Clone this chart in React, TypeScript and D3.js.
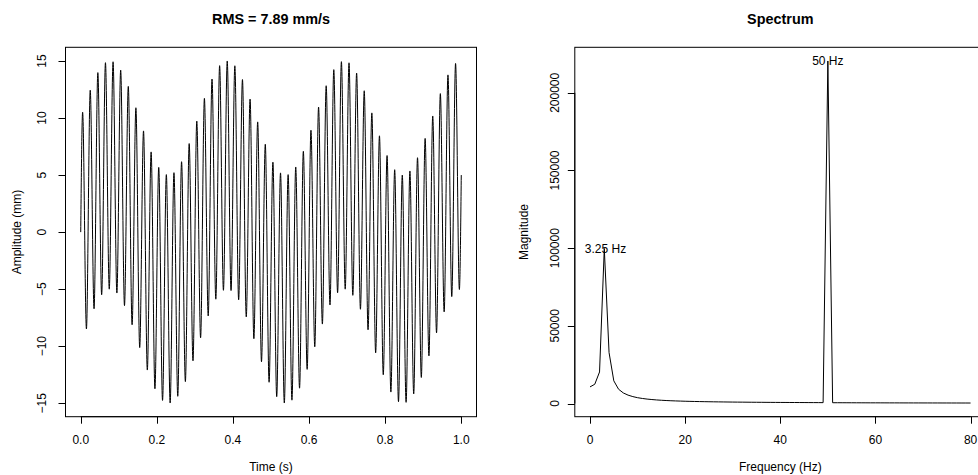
import React from "react";
import * as d3 from "d3";

// ---- Time signal (extrema) ----
const peakTimes = [0.005,0.025,0.045,0.065,0.085,0.105,0.125,0.145,0.165,0.185,0.205,0.225,0.245,0.265,0.285,0.305,0.325,0.345,0.365,0.385,0.405,0.425,0.445,0.465,0.485,0.505,0.525,0.545,0.565,0.585,0.605,0.625,0.645,0.665,0.685,0.705,0.725,0.745,0.765,0.785,0.805,0.825,0.845,0.865,0.885,0.905,0.925,0.945,0.965,0.985];
const peakValues = [10.51,12.44,13.98,14.85,14.93,14.2,12.77,10.9,8.87,7.03,5.67,5.04,5.21,6.17,7.76,9.73,11.72,13.42,14.59,15.0,14.58,13.37,11.66,9.66,7.7,6.13,5.19,5.04,5.71,7.08,8.93,10.96,12.83,14.24,14.94,14.84,13.94,12.39,10.45,8.44,6.71,5.47,5.0,5.36,6.52,8.21,10.18,12.14,13.78,14.78];
const troughTimes = [0.015,0.035,0.055,0.075,0.095,0.115,0.135,0.155,0.175,0.195,0.215,0.235,0.255,0.275,0.295,0.315,0.335,0.355,0.375,0.395,0.415,0.435,0.455,0.475,0.495,0.515,0.535,0.555,0.575,0.595,0.615,0.635,0.655,0.675,0.695,0.715,0.735,0.755,0.775,0.795,0.815,0.835,0.855,0.875,0.895,0.915,0.935,0.955,0.975,0.995];
const troughValues = [-8.49,-6.72,-5.49,-5.0,-5.34,-6.44,-8.12,-10.12,-12.09,-13.73,-14.75,-14.98,-14.39,-13.1,-11.28,-9.26,-7.35,-5.88,-5.1,-5.12,-5.93,-7.43,-9.34,-11.36,-13.16,-14.42,-14.98,-14.73,-13.68,-12.03,-10.05,-8.06,-6.39,-5.31,-5.0,-5.54,-6.76,-8.56,-10.58,-12.5,-14.02,-14.86,-14.92,-14.18,-12.74,-10.85,-8.83,-6.99,-5.65,-5.03];
const edgeTimes = [0, 1];
const edgeValues = [0, 5.0];

const timeTicks = [0, 0.2, 0.4, 0.6, 0.8, 1.0];
const timeTickLabels = ["0.0", "0.2", "0.4", "0.6", "0.8", "1.0"];
const ampTicks = [-15, -10, -5, 0, 5, 10, 15];

// ---- Spectrum (0..80 Hz) ----
const freqs = d3.range(0, 81);
const magnitudes = [10700,12400,20300,99800,32800,14600,9200,6800,5400,4450,3750,3250,2850,2560,2300,2100,1930,1790,1660,1560,1460,1380,1310,1250,1190,1140,1090,1050,1010,970,935,905,875,845,820,795,775,750,730,710,690,675,660,645,630,615,600,590,575,560,220500,510,505,495,485,475,465,460,450,440,435,425,420,410,405,400,390,385,380,375,370,365,360,355,350,345,340,335,330,325,320];
const freqTicks = [0, 20, 40, 60, 80];
const magTicks = [0, 50000, 100000, 150000, 200000];
const annotations = [
  { f: 3.25, m: 99800, label: "3.25 Hz" },
  { f: 50, m: 220500, label: "50 Hz" },
];

const FONT = "'Liberation Sans', Arial, Helvetica, sans-serif";
const minus = (s: string) => s.replace("-", "\u2212");

function pad(ext: [number, number]): [number, number] {
  const r = ext[1] - ext[0];
  return [ext[0] - 0.04 * r, ext[1] + 0.04 * r];
}

export default function App() {
  // left panel
  const L = { x0: 65.5, x1: 476.5, y0: 47.3, y1: 416.7 };
  const R = { x0: 574.8, x1: 985.8, y0: 47.3, y1: 416.7 };

  const pts: { t: number; v: number }[] = [];
  edgeTimes.forEach((t, i) => pts.push({ t, v: edgeValues[i] }));
  peakTimes.forEach((t, i) => pts.push({ t, v: peakValues[i] }));
  troughTimes.forEach((t, i) => pts.push({ t, v: troughValues[i] }));
  pts.sort((a, b) => a.t - b.t);

  const allV = pts.map((p) => p.v);
  const xL = d3.scaleLinear().domain(pad([0, 1])).range([L.x0, L.x1]);
  const yL = d3.scaleLinear().domain(pad(d3.extent(allV) as [number, number])).range([L.y1, L.y0]);
  const wave = d3
    .line<{ t: number; v: number }>()
    .x((d) => xL(d.t))
    .y((d) => yL(d.v))
    .curve(d3.curveMonotoneX)(pts) as string;

  const xR = d3.scaleLinear().domain(pad([0, 80])).range([R.x0, R.x1]);
  const yR = d3.scaleLinear().domain(pad(d3.extent(magnitudes) as [number, number])).range([R.y1, R.y0]);
  const spec = d3
    .line<number>()
    .x((_, i) => xR(freqs[i]))
    .y((d) => yR(d))(magnitudes) as string;

  const tick = 7;
  const txt = { fontFamily: FONT, fill: "#000" } as const;

  return (
    <svg
      width={978}
      height={475}
      style={{ position: "absolute", left: 0, top: 0, background: "#fff", overflow: "hidden" }}
    >
      <rect x={0} y={0} width={978} height={475} fill="#fff" />
      {/* ===== Left panel ===== */}
      <text x={(L.x0 + L.x1) / 2} y={24} textAnchor="middle" fontSize={14.4} fontWeight="bold" {...txt}>
        RMS = 7.89 mm/s
      </text>
      <path d={wave} fill="none" stroke="#000" strokeWidth={1} />
      <rect x={L.x0} y={L.y0} width={L.x1 - L.x0} height={L.y1 - L.y0} fill="none" stroke="#000" strokeWidth={1} />
      {/* x axis */}
      <line x1={xL(timeTicks[0])} x2={xL(timeTicks[timeTicks.length - 1])} y1={L.y1} y2={L.y1} stroke="#000" />
      {timeTicks.map((t, i) => (
        <g key={"lt" + i}>
          <line x1={Math.round(xL(t)) + 0.5} x2={Math.round(xL(t)) + 0.5} y1={L.y1} y2={L.y1 + tick} stroke="#000" />
          <text x={xL(t)} y={444} textAnchor="middle" fontSize={12} {...txt}>
            {timeTickLabels[i]}
          </text>
        </g>
      ))}
      <text x={(L.x0 + L.x1) / 2} y={471} textAnchor="middle" fontSize={12} {...txt}>
        Time (s)
      </text>
      {/* y axis */}
      <line x1={L.x0} x2={L.x0} y1={yL(ampTicks[0])} y2={yL(ampTicks[ampTicks.length - 1])} stroke="#000" />
      {ampTicks.map((v, i) => (
        <g key={"la" + i}>
          <line x1={L.x0 - tick} x2={L.x0} y1={Math.round(yL(v)) + 0.5} y2={Math.round(yL(v)) + 0.5} stroke="#000" />
          <text transform={`translate(45.5,${yL(v)}) rotate(-90)`} textAnchor="middle" fontSize={12} {...txt}>
            {minus(String(v))}
          </text>
        </g>
      ))}
      <text transform={`translate(20.5,${(L.y0 + L.y1) / 2}) rotate(-90)`} textAnchor="middle" fontSize={12} {...txt}>
        Amplitude (mm)
      </text>

      {/* ===== Right panel ===== */}
      <text x={(R.x0 + R.x1) / 2} y={24} textAnchor="middle" fontSize={14.4} fontWeight="bold" {...txt}>
        Spectrum
      </text>
      <path d={spec} fill="none" stroke="#000" strokeWidth={1} />
      <rect x={R.x0} y={R.y0} width={R.x1 - R.x0} height={R.y1 - R.y0} fill="none" stroke="#000" strokeWidth={1} />
      {annotations.map((a, i) => (
        <text key={"an" + i} x={xR(a.f)} y={yR(a.m)} dy="0.35em" textAnchor="middle" fontSize={12} {...txt}>
          {a.label}
        </text>
      ))}
      <line x1={xR(freqTicks[0])} x2={xR(freqTicks[freqTicks.length - 1])} y1={R.y1} y2={R.y1} stroke="#000" />
      {freqTicks.map((f, i) => (
        <g key={"rf" + i}>
          <line x1={Math.round(xR(f)) + 0.5} x2={Math.round(xR(f)) + 0.5} y1={R.y1} y2={R.y1 + tick} stroke="#000" />
          <text x={xR(f)} y={444} textAnchor="middle" fontSize={12} {...txt}>
            {String(f)}
          </text>
        </g>
      ))}
      <text x={(R.x0 + R.x1) / 2} y={471} textAnchor="middle" fontSize={12} {...txt}>
        Frequency (Hz)
      </text>
      <line x1={R.x0} x2={R.x0} y1={yR(magTicks[0])} y2={yR(magTicks[magTicks.length - 1])} stroke="#000" />
      {magTicks.map((m, i) => (
        <g key={"rm" + i}>
          <line x1={R.x0 - tick} x2={R.x0} y1={Math.round(yR(m)) + 0.5} y2={Math.round(yR(m)) + 0.5} stroke="#000" />
          <text transform={`translate(558.5,${yR(m)}) rotate(-90)`} textAnchor="middle" fontSize={12} {...txt}>
            {String(m)}
          </text>
        </g>
      ))}
      <text transform={`translate(528,${(R.y0 + R.y1) / 2}) rotate(-90)`} textAnchor="middle" fontSize={12} {...txt}>
        Magnitude
      </text>
    </svg>
  );
}
